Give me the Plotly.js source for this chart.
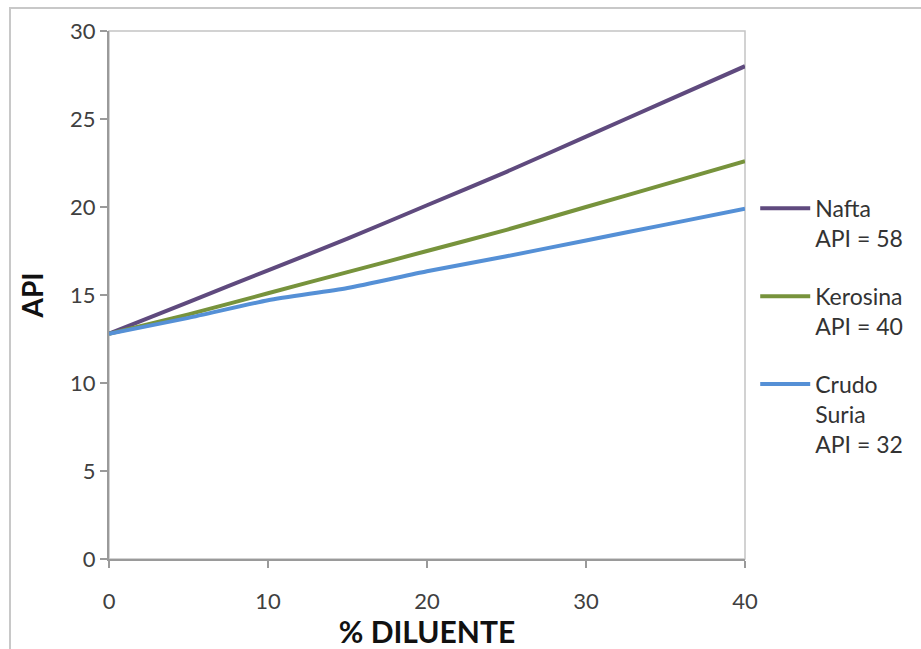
<!DOCTYPE html>
<html>
<head>
<meta charset="utf-8">
<script src="https://cdn.plot.ly/plotly-3.0.1.min.js"></script>
<style>
  html, body { margin: 0; padding: 0; background: #ffffff; }
  #wrap { position: relative; width: 921px; height: 649px; overflow: hidden; }
  #chart { width: 921px; height: 649px; }
  #frame {
    position: absolute; left: 9px; top: 7px; width: 940px; height: 660px;
    border-left: 2px solid #c8c8c8; border-top: 2px solid #c8c8c8;
    pointer-events: none;
  }
</style>
</head>
<body>
<div id="wrap">
  <div id="chart"></div>
  <div id="frame"></div>
</div>
<script>
// % of diluent blended into the crude
const diluente = [0, 5, 10, 15, 20, 25, 30, 35, 40];

// resulting API gravity of the blend for each diluent
const apiNafta    = [12.8, 14.6, 16.4, 18.2, 20.1, 22.0, 24.0, 26.0, 28.0];
const apiKerosina = [12.8, 13.9, 15.1, 16.3, 17.5, 18.7, 20.0, 21.3, 22.6];
const apiCrudo    = [12.8, 13.7, 14.7, 15.4, 16.35, 17.2, 18.1, 19.0, 19.9];

const seriesNames  = ['Nafta<br>API = 58', 'Kerosina<br>API = 40', 'Crudo<br>Suria<br>API = 32'];
const seriesColors = ['#5f4a7e', '#77933c', '#5590d6'];

const xTicks = [0, 10, 20, 30, 40];
const yTicks = [0, 5, 10, 15, 20, 25, 30];

const seriesValues = [apiNafta, apiKerosina, apiCrudo];

const traces = seriesValues.map((vals, i) => ({
  type: 'scatter',
  mode: 'lines',
  x: diluente,
  y: vals,
  name: seriesNames[i],
  legendgroup: 'g' + i,
  line: { color: seriesColors[i], width: 4, shape: 'spline', smoothing: 0.6 },
  hoverinfo: 'x+y+name'
}));

const tickFont = { family: 'Lato, "Liberation Sans", sans-serif', size: 22, color: '#404040' };

const layout = {
  width: 921,
  height: 649,
  margin: { l: 109, r: 176, t: 31, b: 90 },
  paper_bgcolor: '#ffffff',
  plot_bgcolor: '#ffffff',
  showlegend: true,
  legend: {
    xref: 'container', yref: 'container',
    x: 0.82, y: 0.712, xanchor: 'left', yanchor: 'top',
    traceorder: 'grouped',
    tracegroupgap: 25,
    valign: 'top',
    itemwidth: 50,
    font: { family: 'Lato, "Liberation Sans", sans-serif', size: 23, color: '#333333' },
    bgcolor: 'rgba(0,0,0,0)'
  },
  xaxis: {
    range: [0, 40],
    tickvals: xTicks,
    ticktext: xTicks.map(String),
    ticks: 'outside', ticklen: 7, tickwidth: 1.5, tickcolor: '#9a9a9a',
    ticklabelstandoff: 15,
    showline: true, linecolor: '#9a9a9a', linewidth: 2,
    showgrid: false, zeroline: false,
    tickfont: tickFont,
    automargin: false,
    title: {
      text: '% DILUENTE',
      font: { family: 'Lato, "Liberation Sans", sans-serif', size: 30, color: '#111111', weight: 'bold' },
      standoff: 16
    }
  },
  yaxis: {
    range: [0, 30],
    tickvals: yTicks,
    ticktext: yTicks.map(String),
    ticks: 'outside', ticklen: 7, tickwidth: 1.5, tickcolor: '#9a9a9a',
    ticklabelstandoff: 0,
    showline: true, linecolor: '#9a9a9a', linewidth: 2,
    showgrid: false, zeroline: false,
    tickfont: tickFont,
    title: {
      text: 'API',
      font: { family: 'Lato, "Liberation Sans", sans-serif', size: 28, color: '#111111', weight: 'bold' },
      standoff: 18
    }
  },
  shapes: [{
    type: 'rect', xref: 'paper', yref: 'paper', x0: 0, x1: 1, y0: 0, y1: 1,
    line: { color: '#c4c4c4', width: 1.5 }, layer: 'below'
  }]
};

Plotly.newPlot('chart', traces, layout, { staticPlot: true, displayModeBar: false });
</script>
</body>
</html>
